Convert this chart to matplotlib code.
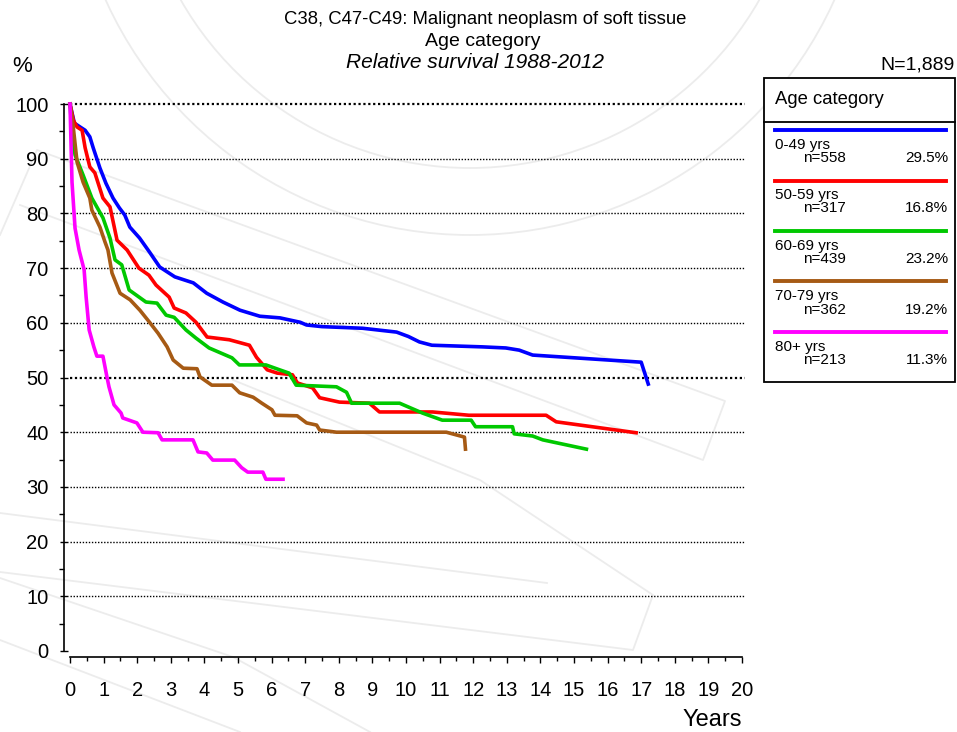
import matplotlib
matplotlib.use("Agg")
import matplotlib.pyplot as plt
from matplotlib.patches import Rectangle, Arc
from matplotlib.lines import Line2D

plt.rcParams['font.family'] = ['Liberation Sans', 'DejaVu Sans']

# ---------------- data ----------------
title_lines = ["C38, C47-C49: Malignant neoplasm of soft tissue", "Age category", "Relative survival 1988-2012"]
total_n = "N=1,889"
legend_title = "Age category"
group_labels = ["0-49 yrs", "50-59 yrs", "60-69 yrs", "70-79 yrs", "80+ yrs"]
group_n = ["n=558", "n=317", "n=439", "n=362", "n=213"]
group_pct = ["29.5%", "16.8%", "23.2%", "19.2%", "11.3%"]
colors = ["#0000ff", "#ff0000", "#00c800", "#a65a14", "#ff00ff"]

x_0_49 = [0, 0.13, 0.3, 0.45, 0.59, 0.69, 0.89, 1.07, 1.28, 1.47, 1.63, 1.78, 2.07, 2.37, 2.67, 3.12, 3.67, 4.07,
          4.55, 5.06, 5.65, 6.25, 6.85, 7.04, 7.5, 8.71, 9.72, 10.07, 10.4, 10.77, 12.27, 12.97, 13.37, 13.77, 17.0, 17.21]
y_0_49 = [100, 96.5, 95.8, 95.2, 94, 92, 88.3, 85.5, 82.8, 81, 79.7, 77.5, 75.5, 72.9, 70.2, 68.4, 67.3, 65.4,
          63.8, 62.3, 61.2, 60.9, 60.1, 59.6, 59.3, 59, 58.3, 57.5, 56.5, 55.9, 55.6, 55.4, 55, 54.1, 52.8, 48.8]

x_50_59 = [0, 0.1, 0.21, 0.36, 0.45, 0.59, 0.74, 0.98, 1.19, 1.4, 1.7, 2.05, 2.35, 2.56, 2.95, 3.1, 3.45, 3.75,
           4.08, 4.74, 5.34, 5.55, 5.87, 6.17, 6.62, 6.77, 7.22, 7.43, 8.02, 8.91, 9.21, 10.79, 11.87, 14.17, 14.47, 16.85]
y_50_59 = [100, 97, 95.8, 95.2, 92, 88.5, 87.4, 82.8, 81.2, 75.1, 73.3, 70, 68.7, 66.9, 64.7, 62.7, 61.8, 60.1,
           57.4, 56.9, 55.9, 53.7, 51.4, 50.8, 50.5, 49, 48.1, 46.3, 45.5, 45.3, 43.7, 43.7, 43.1, 43.1, 41.9, 39.9]

x_60_69 = [0, 0.06, 0.15, 0.39, 0.65, 0.98, 1.19, 1.34, 1.54, 1.76, 2.26, 2.59, 2.86, 3.1, 3.45, 3.75, 4.14, 4.82,
           5.04, 5.83, 6.24, 6.52, 6.73, 7.93, 8.23, 8.38, 9.81, 10.49, 11.08, 11.94, 12.07, 13.17, 13.22, 13.77, 14.07, 15.37]
y_60_69 = [100, 95, 90.7, 87, 82.8, 79.2, 75.5, 71.5, 70.6, 66, 63.8, 63.6, 61.4, 61, 58.7, 57.2, 55.4, 53.6,
           52.3, 52.3, 51.4, 50.8, 48.6, 48.3, 47.3, 45.3, 45.3, 43.5, 42.2, 42.2, 41, 41, 39.7, 39.3, 38.6, 36.9]

x_70_79 = [0, 0.1, 0.21, 0.39, 0.59, 0.65, 0.89, 1.04, 1.13, 1.25, 1.49, 1.79, 2.08, 2.38, 2.62, 2.89, 3.07, 3.37,
           3.78, 3.87, 4.22, 4.82, 5.05, 5.45, 5.71, 6.01, 6.1, 6.76, 7.04, 7.34, 7.43, 7.93, 11.2, 11.74, 11.77]
y_70_79 = [100, 95.6, 89.4, 85.7, 82.8, 80.6, 77.5, 74.8, 73.3, 69.1, 65.4, 64.2, 62.3, 60, 58.1, 55.6, 53.2, 51.7,
           51.6, 50.1, 48.6, 48.6, 47.2, 46.4, 45.3, 44.1, 43.1, 43, 41.7, 41.3, 40.4, 40, 40, 39.1, 36.9]

x_80p = [0, 0.06, 0.15, 0.27, 0.42, 0.48, 0.57, 0.71, 0.8, 0.98, 1.1, 1.16, 1.31, 1.52, 1.57, 1.99, 2.17, 2.62,
         2.74, 3.66, 3.81, 4.07, 4.25, 4.9, 5.11, 5.29, 5.74, 5.83, 6.34]
y_80p = [100, 85.7, 77.3, 73.3, 69.7, 64.7, 58.7, 55.6, 53.9, 53.9, 50.1, 48.3, 45, 43.5, 42.6, 41.7, 40, 39.9,
         38.6, 38.6, 36.4, 36.2, 34.9, 34.9, 33.5, 32.7, 32.7, 31.4, 31.4]

series_x = [x_0_49, x_50_59, x_60_69, x_70_79, x_80p]
series_y = [y_0_49, y_50_59, y_60_69, y_70_79, y_80p]

x_ticks = list(range(0, 21))
y_ticks = list(range(0, 101, 10))

# ---------------- figure ----------------
W, H = 957, 732
fig = plt.figure(figsize=(W / 100, H / 100), dpi=100)

def fx(px):
    return px / W

def fy(py):
    return 1 - py / H

# faint background watermark (decorative)
wm_color = "#ececec"
wm_paths = [
    [(0, 235), (37, 150), (725, 401), (703, 460), (20, 205)],
    [(0, 513), (547, 583)],
    [(233, 380), (480, 480), (653, 595), (633, 650), (0, 572)],
    [(0, 640), (240, 732)],
    [(0, 578), (233, 657), (370, 732)],
]
for path in wm_paths:
    xs = [fx(p[0]) for p in path]
    ys = [fy(p[1]) for p in path]
    fig.add_artist(Line2D(xs, ys, transform=fig.transFigure, color=wm_color, lw=1.3, zorder=0))
for (cx, cy, r) in [(470, -165, 333), (470, -165, 400)]:
    fig.add_artist(Arc((fx(cx), fy(cy)), 2 * r / W, 2 * r / H, theta1=200, theta2=340,
                       transform=fig.transFigure, color=wm_color, lw=1.3, zorder=0))

ax = fig.add_axes([fx(70), fy(651), fx(742) - fx(70), fy(104) - fy(651)])
ax.set_xlim(0, 20)
ax.set_ylim(0, 100)
ax.patch.set_visible(False)

for s in ['top', 'right']:
    ax.spines[s].set_visible(False)
ax.spines['left'].set_position(('outward', 4.3))
ax.spines['bottom'].set_position(('outward', 4.3))
ax.spines['left'].set_bounds(0, 100)
ax.spines['bottom'].set_bounds(0, 20)
for s in ['left', 'bottom']:
    ax.spines[s].set_linewidth(1.2)

ax.set_xticks(x_ticks)
ax.set_xticks([v + 0.5 for v in x_ticks[:-1]], minor=True)
ax.set_yticks(y_ticks)
ax.set_yticks([v + 5 for v in y_ticks[:-1]], minor=True)
ax.tick_params(axis='x', which='major', direction='out', length=4.5, width=1, labelsize=14.5, pad=12.5)
ax.tick_params(axis='x', which='minor', direction='out', length=3, width=1)
ax.tick_params(axis='y', which='major', direction='inout', length=6, width=1, labelsize=14.5, pad=8)
ax.tick_params(axis='y', which='minor', direction='out', length=3.5, width=1)

for v in y_ticks[1:]:
    lw = 1.6 if v in (50, 100) else 1.0
    ax.plot([0, 20.1], [v, v], linestyle=(0, (1, 1.2)), color='black', lw=lw, clip_on=False, zorder=1)

for xs, ys, c in zip(series_x, series_y, colors):
    ax.plot(xs, ys, color=c, lw=2.6, solid_joinstyle='round', zorder=3, clip_on=False)

# ---------------- texts ----------------
fig.text(fx(485), fy(20), title_lines[0], ha='center', va='center', fontsize=13.3)
fig.text(fx(483), fy(41), title_lines[1], ha='center', va='center', fontsize=14)
fig.text(fx(475), fy(62), title_lines[2], ha='center', va='center', fontsize=15, style='italic')
fig.text(fx(22), fy(66), "%", ha='center', va='center', fontsize=16)
fig.text(fx(955), fy(65), total_n, ha='right', va='center', fontsize=14)
fig.text(fx(742), fy(720), "Years", ha='right', va='center', fontsize=17)

# ---------------- legend box ----------------
fig.add_artist(Rectangle((fx(764), fy(382)), fx(955) - fx(764), fy(78) - fy(382),
                         transform=fig.transFigure, fill=True, facecolor='white', edgecolor='black', lw=1.3))
fig.add_artist(Line2D([fx(764), fx(955)], [fy(122), fy(122)], transform=fig.transFigure, color='black', lw=1.3))
fig.text(fx(775), fy(100), legend_title, ha='left', va='center', fontsize=13.3)

for i, (lab, n, pct, c) in enumerate(zip(group_labels, group_n, group_pct, colors)):
    y0 = 130 + i * 50.5
    fig.add_artist(Line2D([fx(775), fx(946)], [fy(y0), fy(y0)], transform=fig.transFigure, color=c, lw=2.8))
    fig.text(fx(775), fy(y0 + 15), lab, ha='left', va='center', fontsize=11)
    fig.text(fx(803), fy(y0 + 28), n, ha='left', va='center', fontsize=11)
    fig.text(fx(948), fy(y0 + 28), pct, ha='right', va='center', fontsize=11)

fig.savefig("out.png", dpi=100, facecolor='white')
